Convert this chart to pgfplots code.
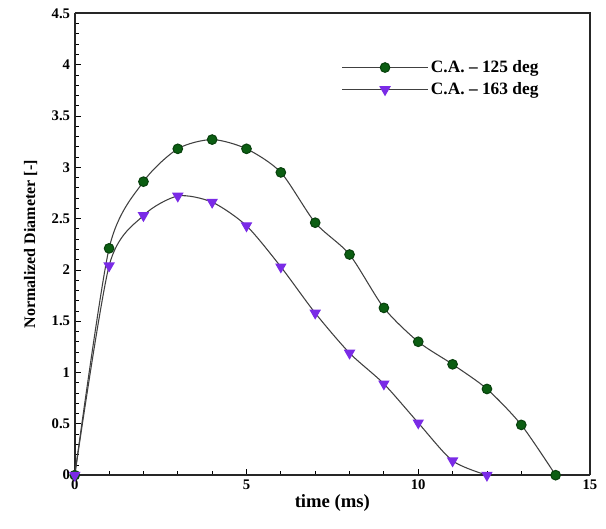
\documentclass[border=0pt]{standalone}
\usepackage{fontspec}
\setmainfont{Liberation Serif}
\usepackage{pgfplots}
\pgfplotsset{compat=1.18}
\definecolor{cagreen}{HTML}{0B5E12}
\definecolor{capurple}{HTML}{7A2BE6}

\pgfplotstableread{
t   d
0   0
1   2.21
2   2.86
3   3.18
4   3.27
5   3.18
6   2.95
7   2.46
8   2.15
9   1.63
10  1.30
11  1.08
12  0.84
13  0.49
14  0
}\caonetwofive

\pgfplotstableread{
t   d
0   0
1   2.04
2   2.53
3   2.72
4   2.66
5   2.43
6   2.03
7   1.58
8   1.19
9   0.89
10  0.51
11  0.14
12  0
}\caonesixthree

\begin{document}
\begin{tikzpicture}
  \begin{axis}[
    scale only axis,
    width=386pt, height=346pt,
    xmin=0, xmax=15, ymin=0, ymax=4.5,
    xtick={0,5,10,15}, ytick={0,0.5,...,4.5},
    minor x tick num=4, minor y tick num=4,
    axis x line*=bottom, axis y line*=left,
    tick align=inside,
    major tick length=5pt, minor tick length=3pt,
    every tick/.style={black, line width=0.6pt},
    axis line style={line width=1.4pt, black!85},
    /pgf/number format/assume math mode=true,
    ticklabel style={font=\bfseries\fontsize{11}{13}\selectfont},
    xlabel={\bfseries time (ms)}, ylabel={\bfseries Normalized Diameter [-]},
    xlabel style={font=\bfseries\fontsize{14}{16}\selectfont, yshift=3pt},
    ylabel style={font=\bfseries\fontsize{12}{14}\selectfont, yshift=4pt},
    clip=false,
    legend cell align=left,
    legend style={at={(0.51,0.91)}, anchor=north west, draw=none, fill=none,
      font=\bfseries\fontsize{13}{15}\selectfont, row sep=2pt},
    legend image code/.code={\draw[mark repeat=2,mark phase=2] plot coordinates {(0pt,0pt) (32pt,0pt) (64pt,0pt)};},
  ]
    \addplot[black!75, line width=0.8pt, smooth, tension=0.45, mark=*, mark size=3.6pt,
      mark options={draw=cagreen!70!black, fill=cagreen}] table[x=t, y=d] {\caonetwofive};
    \addplot[black!75, line width=0.8pt, smooth, tension=0.45, mark=triangle*, mark size=4.2pt,
      mark options={draw=capurple, fill=capurple, rotate=180}] table[x=t, y=d] {\caonesixthree};
    \legend{C.A. -- 125 deg, C.A. -- 163 deg}
    % plain frame lines top and right
    \draw[line width=1.4pt, black!85] (rel axis cs:0,1) -- (rel axis cs:1,1) -- (rel axis cs:1,0);
  \end{axis}
  \pgfresetboundingbox
  \path ([shift={(-56pt,-40pt)}]current axis.south west) rectangle ([shift={(12pt,10pt)}]current axis.north east);
\end{tikzpicture}
\end{document}
